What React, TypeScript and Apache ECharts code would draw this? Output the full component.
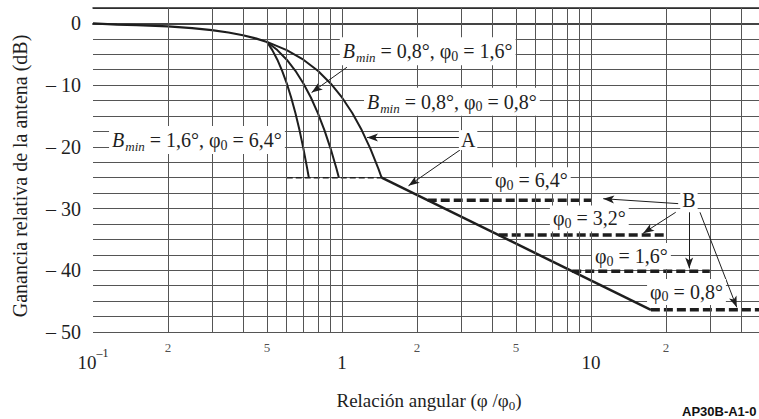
import React, { useEffect, useRef } from "react";
import * as echarts from "echarts";

const SERIF = "'Liberation Serif', 'Times New Roman', serif";
const INK = "#1e1e1e";
const GRID = "#555555";

// axes
const xMin = 0.1;
const xMax = 50;
const yMin = -50;
const yMax = 2.5;
const yStep = 2.5;
const decadeValues = [0.1, 1, 10];
const decadeTexts = ["{b|10}{sup|–1}", "{b|1}", "{b|10}"];
const minorLabelValues = [0.2, 0.5, 2, 5, 20];
const minorLabelTexts = ["2", "5", "2", "5", "2"];
const verticalGridValues = [0.2, 0.3, 0.4, 0.5, 0.6, 0.7, 0.8, 0.9, 1, 2, 3, 4, 5, 6, 7, 8, 9, 10, 20, 30, 40];

// common main-beam part
const mainU = [0.1, 0.125, 0.15, 0.2, 0.25, 0.3, 0.35, 0.4, 0.45, 0.5];
const mainG = [0, -0.19, -0.27, -0.48, -0.75, -1.08, -1.47, -1.92, -2.43, -3.0];
// Bmin = 0.8°, phi0 = 0.8°
const c0808U = [0.5, 0.6, 0.7, 0.8, 0.9, 1.0, 1.1, 1.2, 1.3, 1.4, 1.443];
const c0808G = [-3.0, -4.32, -5.88, -7.68, -9.72, -12.0, -14.52, -17.28, -20.28, -23.52, -25.0];
// Bmin = 0.8°, phi0 = 1.6°
const c0816U = [0.5, 0.55, 0.6, 0.65, 0.7, 0.75, 0.8, 0.85, 0.9, 0.95, 0.972];
const c0816G = [-3.0, -4.32, -5.88, -7.68, -9.72, -12.0, -14.52, -17.28, -20.28, -23.52, -25.0];
// Bmin = 1.6°, phi0 = 6.4°
const c1664U = [0.5, 0.525, 0.55, 0.575, 0.6, 0.625, 0.65, 0.675, 0.7, 0.725, 0.736];
const c1664G = [-3.0, -4.32, -5.88, -7.68, -9.72, -12.0, -14.52, -17.28, -20.28, -23.52, -25.0];
// curve A (sidelobe slope)
const lineAU = [1.443, 17.4];
const lineAG = [-25.0, -46.4];
// -25 dB floor (thin dashed)
const floorU = [0.6, 1.443];
const floorG = [-25.0, -25.0];
// B floors
const b64U = [2.21, 10];
const b64G = [-28.65, -28.65];
const b32U = [4.26, 20];
const b32G = [-34.3, -34.3];
const b16U = [8.41, 30];
const b16G = [-40.15, -40.15];
const b08U = [17.4, 50];
const b08G = [-46.4, -46.4];

// annotations (box left-middle anchors in data space)
const labelTexts = [
  "{i|B}{si|min}{n| = 0,8°, φ}{s|0}{n| = 1,6°}",
  "{i|B}{si|min}{n| = 0,8°, φ}{s|0}{n| = 0,8°}",
  "{i|B}{si|min}{n| = 1,6°, φ}{s|0}{n| = 6,4°}",
  "{n|φ}{s|0}{n| = 6,4°}",
  "{n|φ}{s|0}{n| = 3,2°}",
  "{n|φ}{s|0}{n| = 1,6°}",
  "{n|φ}{s|0}{n| = 0,8°}",
];
const labelU = [0.98, 1.226, 0.116, 4.0, 6.84, 10.1, 16.8];
const labelG = [-4.5, -12.7, -18.9, -25.4, -31.6, -37.7, -43.5];
const letterTexts = ["A", "B"];
const letterU = [3.21, 24.75];
const letterG = [-18.9, -28.65];
// arrows
const arrowFromU = [1.047, 2.98, 2.98, 22.4, 21.9, 24.8, 27.4];
const arrowFromG = [-7.1, -18.5, -20.5, -29.2, -30.6, -30.6, -30.6];
const arrowToU = [0.755, 1.26, 1.85, 11.2, 16.2, 24.8, 38.5];
const arrowToG = [-11.2, -18.5, -26.3, -28.4, -34.0, -39.7, -46.0];

const yTitle = "Ganancia relativa de la antena (dB)";
const xTitle = "{n|Relación angular (φ /φ}{s|0}{n|)}";
const figureId = "AP30B-A1-0";

const zip = (u: number[], g: number[]) => u.map((v, i) => [v, g[i]]);

export default function App() {
  const ref = useRef<HTMLDivElement>(null);
  useEffect(() => {
    if (!ref.current) return;
    const chart = echarts.init(ref.current, null, { renderer: "svg" });

    const curve = (name: string, u: number[], g: number[], width: number, type: any = "solid") => ({
      name,
      type: "line",
      data: zip(u, g),
      showSymbol: false,
      symbol: "none",
      silent: true,
      z: 3,
      lineStyle: { color: INK, width, type, cap: "butt" },
    });

    const option: any = {
      animation: false,
      backgroundColor: "#ffffff",
      grid: { left: 93, top: 8, width: 672, height: 324 },
      xAxis: [
        {
          type: "log",
          logBase: 10,
          min: xMin,
          max: xMax,
          position: "bottom",
          name: xTitle,
          nameLocation: "middle",
          nameGap: 57,
          nameTextStyle: {
            rich: {
              n: { fontFamily: SERIF, fontSize: 19, color: INK },
              s: { fontFamily: SERIF, fontSize: 13, color: INK, padding: [10, 0, 0, 0] },
            },
          },
          axisLine: { show: true, lineStyle: { color: "#444", width: 2 } },
          axisTick: { show: false },
          splitLine: { show: false },
          axisLabel: {
            showMaxLabel: false,
            margin: 14,
            formatter: (v: number) => {
              const i = decadeValues.findIndex((d) => Math.abs(d - v) < d * 1e-6);
              return i >= 0 ? decadeTexts[i] : "";
            },
            rich: {
              b: { fontFamily: SERIF, fontSize: 19, color: INK, lineHeight: 32 },
              sup: { fontFamily: SERIF, fontSize: 12, color: INK, padding: [0, 0, 18, 0] },
            },
          },
        },
        {
          type: "log",
          logBase: 10,
          min: xMin,
          max: xMax,
          position: "top",
          axisLine: { show: true, lineStyle: { color: "#222", width: 1.5 } },
          axisTick: { show: false },
          axisLabel: { show: false },
          splitLine: { show: false },
        },
      ],
      yAxis: {
        type: "value",
        min: yMin,
        max: yMax,
        interval: yStep,
        axisLine: { show: false },
        axisTick: { show: false },
        splitLine: { show: true, lineStyle: { color: GRID, width: 1 } },
        axisLabel: {
          margin: 12,
          fontFamily: SERIF,
          fontSize: 20,
          color: INK,
          formatter: (v: number) => {
            if (Math.abs(v % 10) > 1e-6) return "";
            return v === 0 ? "0" : "– " + Math.abs(v);
          },
        },
      },
      series: [
        {
          name: "grid",
          type: "line",
          data: [],
          silent: true,
          z: 1,
          markLine: {
            silent: true,
            symbol: ["none", "none"],
            label: { show: false },
            lineStyle: { color: GRID, width: 1, type: "solid" },
            data: verticalGridValues.map((v) => ({ xAxis: v })),
          },
        },
        curve("main", mainU, mainG, 2.2),
        curve("Bmin 0,8 phi0 0,8", c0808U, c0808G, 2),
        curve("Bmin 0,8 phi0 1,6", c0816U, c0816G, 2),
        curve("Bmin 1,6 phi0 6,4", c1664U, c1664G, 2),
        curve("A", lineAU, lineAG, 2.5),
        curve("floor -25", floorU, floorG, 1.5, [6, 3]),
        curve("B 6,4", b64U, b64G, 3.5, [9, 4]),
        curve("B 3,2", b32U, b32G, 3.5, [9, 4]),
        curve("B 1,6", b16U, b16G, 3.5, [9, 4]),
        curve("B 0,8", b08U, b08G, 3.5, [9, 4]),
        {
          name: "arrows",
          type: "line",
          data: [],
          silent: true,
          z: 6,
          markLine: {
            silent: true,
            symbol: ["none", "arrow"],
            symbolSize: [6, 11],
            label: { show: false },
            lineStyle: { color: INK, width: 1, type: "solid" },
            data: arrowFromU.map((u, i) => [
              { coord: [u, arrowFromG[i]] },
              { coord: [arrowToU[i], arrowToG[i]] },
            ]),
          },
        },
        {
          name: "minor labels",
          type: "scatter",
          data: minorLabelValues.map((v) => [v, yMin]),
          symbolSize: 0,
          silent: true,
          label: {
            show: true,
            position: "bottom",
            distance: 9,
            fontFamily: SERIF,
            fontSize: 13,
            color: INK,
            formatter: (p: any) => minorLabelTexts[p.dataIndex],
          },
        },
      ],
    };
    chart.setOption(option);

    const px = (u: number, g: number) => chart.convertToPixel({ seriesIndex: 1 }, [u, g]) as number[];
    const annoRich = {
      n: { fontFamily: SERIF, fontSize: 20, fill: INK, color: INK },
      i: { fontFamily: SERIF, fontSize: 20, fontStyle: "italic", fill: INK, color: INK },
      si: { fontFamily: SERIF, fontSize: 13, fontStyle: "italic", fill: INK, color: INK, padding: [13, 0, 0, 1] },
      s: { fontFamily: SERIF, fontSize: 14, fill: INK, color: INK, padding: [10, 0, 0, 0] },
    };
    const graphics: any[] = [];
    labelTexts.forEach((t, i) => {
      const [x, y] = px(labelU[i], labelG[i]);
      graphics.push({
        type: "text",
        x,
        y,
        z: 20,
        silent: true,
        style: {
          text: t,
          rich: annoRich,
          fontFamily: SERIF,
          fontSize: 20,
          fill: INK,
          align: "left",
          verticalAlign: "middle",
          backgroundColor: "#ffffff",
          padding: [1, 3, 1, 3],
        },
      });
    });
    letterTexts.forEach((t, i) => {
      const [x, y] = px(letterU[i], letterG[i]);
      graphics.push({
        type: "text",
        x,
        y,
        z: 20,
        silent: true,
        style: {
          text: t,
          fontFamily: SERIF,
          fontSize: 20,
          fill: INK,
          align: "center",
          verticalAlign: "middle",
          backgroundColor: "#ffffff",
          padding: [0, 2, 0, 2],
        },
      });
    });
    graphics.push({
      type: "text",
      x: 20,
      y: 176,
      rotation: Math.PI / 2,
      silent: true,
      style: {
        text: yTitle,
        fontFamily: SERIF,
        fontSize: 20,
        fill: INK,
        align: "center",
        verticalAlign: "middle",
      },
    });
    graphics.push({
      type: "text",
      x: 682,
      y: 411,
      silent: true,
      style: {
        text: figureId,
        fontFamily: "'Liberation Sans', Arial, sans-serif",
        fontWeight: "bold",
        fontSize: 13,
        fill: "#111",
        align: "left",
        verticalAlign: "middle",
      },
    });
    chart.setOption({ graphic: graphics });

    return () => chart.dispose();
  }, []);

  return (
    <div
      style={{
        position: "absolute",
        left: 0,
        top: 0,
        width: 759,
        height: 419,
        overflow: "hidden",
        background: "#ffffff",
      }}
    >
      <div ref={ref} style={{ width: 772, height: 419 }} />
    </div>
  );
}
